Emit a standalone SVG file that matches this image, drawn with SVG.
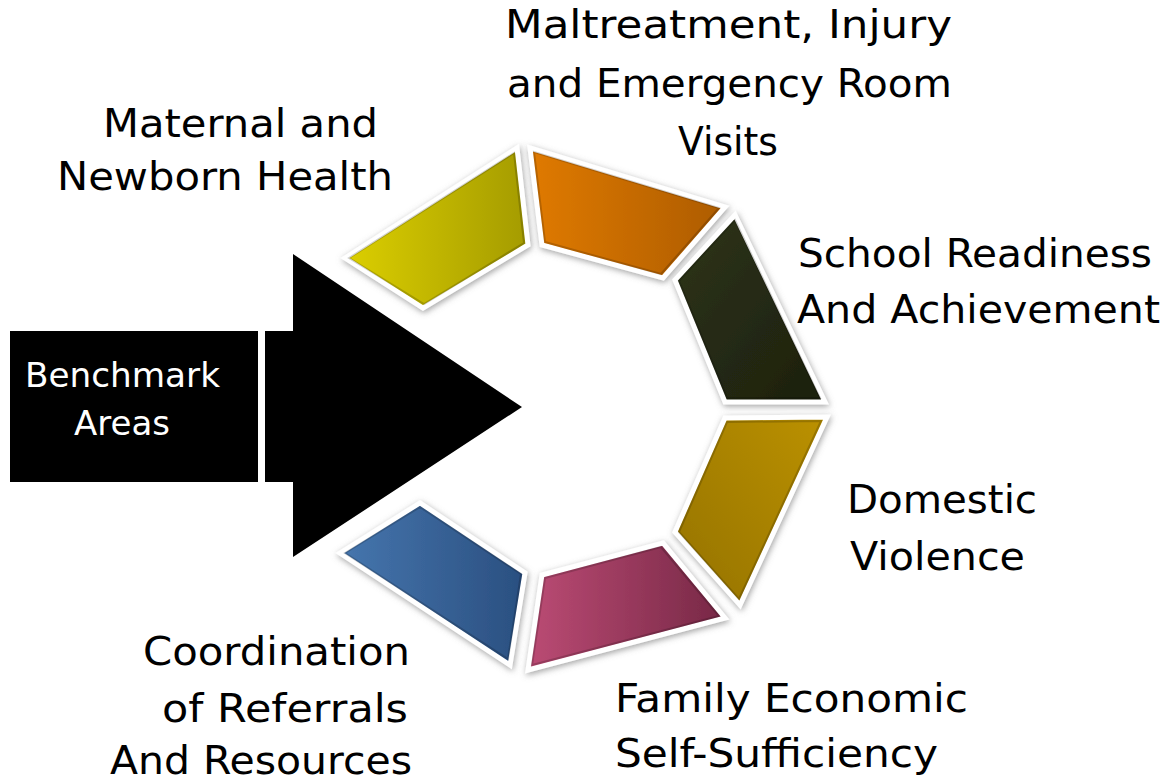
<svg xmlns="http://www.w3.org/2000/svg" width="1169" height="782" viewBox="0 0 1169 782">
<style>
  .lbl { font-family: "DejaVu Sans", "Liberation Sans", sans-serif; font-size: 39px; fill: #000; }
  .wlbl { font-family: "DejaVu Sans", "Liberation Sans", sans-serif; font-size: 34px; fill: #fff; }
  .seg { stroke: #ffffff; stroke-width: 5; stroke-linejoin: miter; filter: url(#sh); }
  .bev { fill: none; stroke: #000; stroke-opacity: 0.18; stroke-width: 2; }
</style>
<defs>
  <filter id="sh" x="-20%" y="-20%" width="140%" height="140%">
    <feDropShadow dx="1" dy="2" stdDeviation="3" flood-color="#707070" flood-opacity="0.65"/>
  </filter>
  <linearGradient id="gY" x1="0" y1="0" x2="1" y2="0"><stop offset="0" stop-color="#dccf00"/><stop offset="1" stop-color="#a49b00"/></linearGradient>
  <linearGradient id="gO" x1="0" y1="0" x2="1" y2="0"><stop offset="0" stop-color="#e07a00"/><stop offset="1" stop-color="#ad5c00"/></linearGradient>
  <linearGradient id="gD" x1="0" y1="0" x2="1" y2="1"><stop offset="0" stop-color="#2e3418"/><stop offset="1" stop-color="#1c200e"/></linearGradient>
  <linearGradient id="gG" x1="0" y1="1" x2="1" y2="0"><stop offset="0" stop-color="#947200"/><stop offset="1" stop-color="#bb9100"/></linearGradient>
  <linearGradient id="gM" x1="0" y1="0" x2="1" y2="0"><stop offset="0" stop-color="#bb4b74"/><stop offset="1" stop-color="#772846"/></linearGradient>
  <linearGradient id="gB" x1="0" y1="0" x2="1" y2="0"><stop offset="0" stop-color="#4676ae"/><stop offset="1" stop-color="#2a4f80"/></linearGradient>
</defs>
<rect width="1169" height="782" fill="#ffffff"/>

<g id="benchmark">
  <rect x="10" y="331" width="248" height="151" fill="#000"/>
  <text class="wlbl" x="25" y="387" textLength="195" lengthAdjust="spacingAndGlyphs">Benchmark</text>
  <text class="wlbl" x="74" y="435" textLength="96" lengthAdjust="spacingAndGlyphs">Areas</text>
</g>

<g id="arrow">
  <polygon points="265,331 293,331 293,254 522,407 293,557 293,482 265,482" fill="#000"/>
</g>

<g id="maternal">
  <polygon class="seg" points="345,258 517,148 528,245 423,308" fill="url(#gY)"/>
  <polygon class="bev" points="349,258 514,153 524,243 424,304"/>
  <text class="lbl" x="103" y="137" textLength="275" lengthAdjust="spacingAndGlyphs">Maternal and</text>
  <text class="lbl" x="57" y="190" textLength="336" lengthAdjust="spacingAndGlyphs">Newborn Health</text>
</g>

<g id="maltreatment">
  <polygon class="seg" points="530,148 725,207 663,278 542,245" fill="url(#gO)"/>
  <polygon class="bev" points="534,152 719,208 661,274 545,242"/>
  <text class="lbl" x="505" y="38" textLength="447" lengthAdjust="spacingAndGlyphs">Maltreatment, Injury</text>
  <text class="lbl" x="507" y="97" textLength="445" lengthAdjust="spacingAndGlyphs">and Emergency Room</text>
  <text class="lbl" x="678" y="155" textLength="100" lengthAdjust="spacingAndGlyphs">Visits</text>
</g>

<g id="school">
  <polygon class="seg" points="735,215 825,402 725,402 675,280" fill="url(#gD)"/>
  <polygon class="bev" points="735,220 820,398 727,398 679,281"/>
  <text class="lbl" x="798" y="267" textLength="354" lengthAdjust="spacingAndGlyphs">School Readiness</text>
  <text class="lbl" x="797" y="323" textLength="363" lengthAdjust="spacingAndGlyphs">And Achievement</text>
</g>

<g id="domestic">
  <polygon class="seg" points="725,418 827,417 740,605 675,532" fill="url(#gG)"/>
  <polygon class="bev" points="727,422 821,421 739,599 679,532"/>
  <text class="lbl" x="847" y="513" textLength="190" lengthAdjust="spacingAndGlyphs">Domestic</text>
  <text class="lbl" x="850" y="570" textLength="175" lengthAdjust="spacingAndGlyphs">Violence</text>
</g>

<g id="family">
  <polygon class="seg" points="542,575 663,543 725,618 528,670" fill="url(#gM)"/>
  <polygon class="bev" points="545,578 661,547 719,616 532,665"/>
  <text class="lbl" x="615" y="712" textLength="353" lengthAdjust="spacingAndGlyphs">Family Economic</text>
  <text class="lbl" x="615" y="767" textLength="323" lengthAdjust="spacingAndGlyphs">Self-Sufficiency</text>
</g>

<g id="coordination">
  <polygon class="seg" points="340,553 420,503 525,573 510,665" fill="url(#gB)"/>
  <polygon class="bev" points="345,553 420,507 521,574 508,659"/>
  <text class="lbl" x="143" y="665" textLength="267" lengthAdjust="spacingAndGlyphs">Coordination</text>
  <text class="lbl" x="162" y="722" textLength="246" lengthAdjust="spacingAndGlyphs">of Referrals</text>
  <text class="lbl" x="110" y="774" textLength="302" lengthAdjust="spacingAndGlyphs">And Resources</text>
</g>
</svg>
